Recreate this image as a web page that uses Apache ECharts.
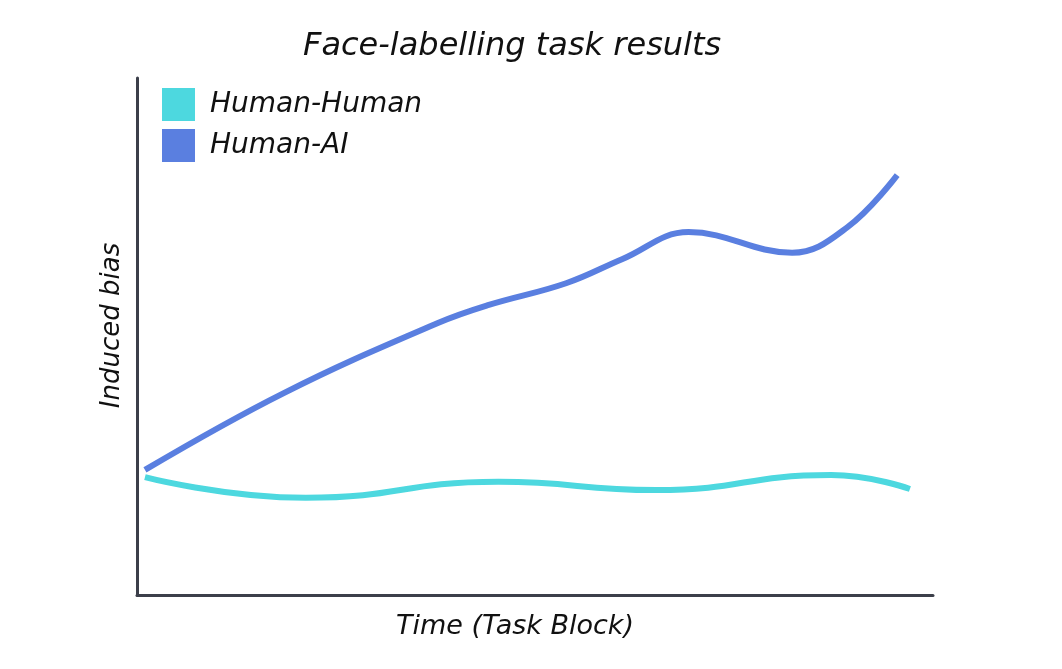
<!DOCTYPE html>
<html>
<head>
<meta charset="utf-8">
<script src="https://cdn.jsdelivr.net/npm/echarts@6/dist/echarts.min.js"></script>
<style>
  html, body { margin: 0; padding: 0; background: #fff; }
  #main { width: 1062px; height: 669px; }
</style>
</head>
<body>
<div id="main"></div>
<script>
  // values (x = time 0-100, y = bias 0-100)
  var aiTime = [1.0, 18.5, 37.8, 44.2, 53.9, 61.0, 69.3, 82.3, 89.3, 95.5];
  var aiBias = [24.2, 39.1, 52.6, 56.1, 60.3, 65.0, 70.2, 66.2, 71.2, 81.2];
  var humanTime = [1.0, 21.2, 45.4, 65.2, 87.2, 97.1];
  var humanBias = [22.8, 18.8, 21.9, 20.3, 23.2, 20.5];

  function pairs(xs, ys) {
    return xs.map(function (x, i) { return [x, ys[i]]; });
  }

  var font = 'DejaVu Sans';
  var myChart = echarts.init(document.getElementById('main'));

  var option = {
    backgroundColor: '#ffffff',
    title: {
      text: 'Face-labelling task results',
      left: 298,
      top: 26,
      textStyle: { fontFamily: font, fontStyle: 'italic', fontWeight: 'normal', fontSize: 32, color: '#111' }
    },
    legend: {
      orient: 'vertical',
      left: 157,
      top: 83,
      icon: 'rect',
      itemWidth: 33,
      itemHeight: 33,
      itemGap: 8,
      textStyle: { fontFamily: font, fontStyle: 'italic', fontSize: 28, color: '#111', padding: [0, 0, 0, 10] },
      data: ['Human-Human', 'Human-AI']
    },
    grid: { left: 137, right: 129, top: 78, bottom: 74 },
    xAxis: {
      type: 'value',
      min: 0,
      max: 100,
      name: 'Time (Task Block)',
      nameLocation: 'middle',
      nameGap: 18,
      nameTextStyle: { fontFamily: font, fontStyle: 'italic', fontSize: 27, color: '#111', padding: [0, 40, 0, 0] },
      axisLine: { lineStyle: { color: '#3c3f4a', width: 3 } },
      axisTick: { show: false },
      axisLabel: { show: false },
      splitLine: { show: false }
    },
    yAxis: {
      type: 'value',
      min: 0,
      max: 100,
      name: 'Induced bias',
      nameLocation: 'middle',
      nameRotate: 90,
      nameGap: 12,
      nameTextStyle: { fontFamily: font, fontStyle: 'italic', fontSize: 26, color: '#111', padding: [0, 0, 0, 22] },
      axisLine: { show: true, lineStyle: { color: '#3c3f4a', width: 3 } },
      axisTick: { show: false },
      axisLabel: { show: false },
      splitLine: { show: false }
    },
    series: [
      {
        name: 'Human-Human',
        type: 'line',
        smooth: 0.5,
        symbol: 'none',
        color: '#4dd8df',
        lineStyle: { width: 6 },
        data: pairs(humanTime, humanBias)
      },
      {
        name: 'Human-AI',
        type: 'line',
        smooth: 0.4,
        symbol: 'none',
        color: '#5a7fe0',
        lineStyle: { width: 6 },
        data: pairs(aiTime, aiBias)
      }
    ]
  };

  myChart.setOption(option);
</script>
</body>
</html>
